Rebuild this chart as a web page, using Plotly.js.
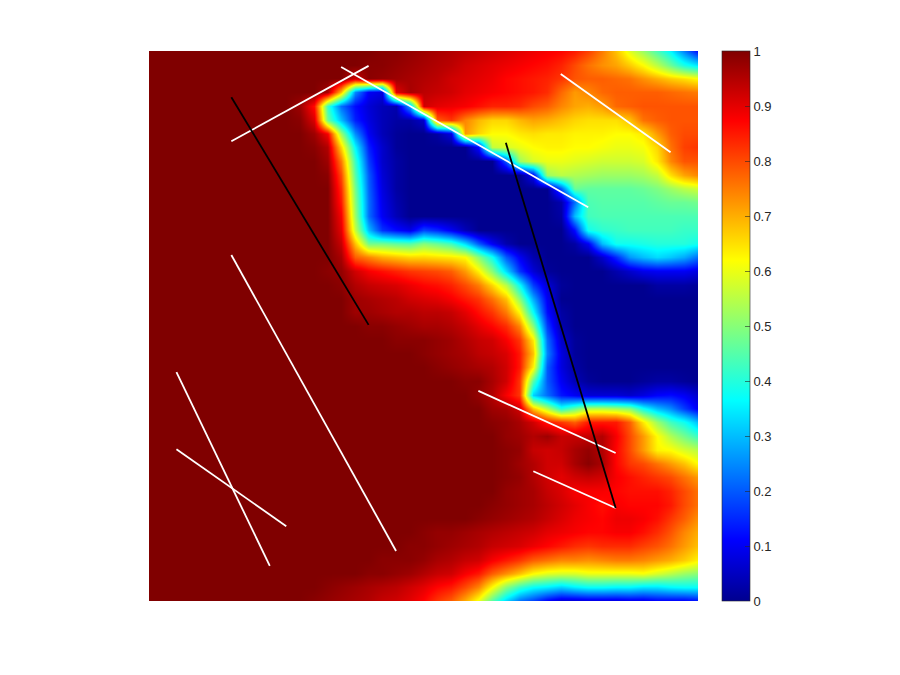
<!DOCTYPE html>
<html>
<head>
<meta charset="utf-8">
<script src="https://cdn.plot.ly/plotly-3.0.1.min.js"></script>
<style>html,body{margin:0;padding:0;background:#fff}</style>
</head>
<body>
<div id="plot" style="width:900px;height:675px"></div>
<script>
// field values, in percent, top row first
var fieldRows = [
[100,100,100,100,100,100,100,100,100,100,100,100,100,100,100,100,100,99,99,98,97,96,95,94,93,92,91,90,89,88,87,85,81,75,68,59,52,44,36,24,12],
[100,100,100,100,100,100,100,100,100,100,100,100,100,100,100,100,99,99,98,97,96,95,94,92,91,90,89,88,87,86,84,80,76,73,71,67,62,55,47,39,34],
[100,100,100,100,100,100,100,100,100,100,100,100,100,100,100,92,99,98,97,96,95,94,92,91,90,89,87,86,85,84,82,79,78,78,77,76,73,70,67,65,62],
[100,100,100,100,100,100,100,100,100,100,100,100,100,96,68,25,10,8,90,96,94,93,92,90,89,88,87,86,85,83,77,72,74,77,78,78,78,78,77,76,75],
[100,100,100,100,100,100,100,100,100,100,100,97,86,42,22,12,7,4,3,28,92,90,89,88,86,84,84,83,80,78,74,71,70,72,77,78,79,79,79,79,79],
[100,100,100,100,100,100,100,100,100,100,100,99,91,47,30,14,8,4,2,2,6,78,82,74,69,66,66,69,71,70,68,66,65,65,65,68,76,78,79,79,79],
[100,100,100,100,100,100,100,100,100,100,100,100,97,88,52,25,10,4,1,0,0,2,8,72,66,62,62,64,65,64,64,63,63,63,62,62,64,72,78,80,80],
[100,100,100,100,100,100,100,100,100,100,100,100,99,95,66,36,14,6,1,0,0,0,0,0,12,56,58,60,62,63,63,62,62,61,60,60,61,66,76,81,82],
[100,100,100,100,100,100,100,100,100,100,100,100,100,97,75,42,17,6,2,0,0,0,0,0,0,0,20,52,58,60,60,59,58,57,57,57,58,64,74,79,79],
[100,100,100,100,100,100,100,100,100,100,100,100,100,99,80,45,20,7,2,0,0,0,0,0,0,0,0,0,10,52,55,54,53,52,52,52,53,56,65,71,74],
[100,100,100,100,100,100,100,100,100,100,100,100,100,100,83,48,21,8,2,0,0,0,0,0,0,0,0,0,0,0,20,47,46,46,46,46,47,49,52,55,57],
[100,100,100,100,100,100,100,100,100,100,100,100,100,100,85,50,22,9,3,0,0,0,0,0,0,0,0,0,0,0,3,22,44,45,45,45,45,46,47,47,48],
[100,100,100,100,100,100,100,100,100,100,100,100,100,100,88,52,22,10,4,0,0,0,0,0,0,0,0,0,0,0,2,30,43,44,44,44,44,44,44,44,44],
[100,100,100,100,100,100,100,100,100,100,100,100,100,100,90,56,30,16,12,9,18,15,10,4,0,0,0,0,0,0,0,12,38,41,42,43,43,43,43,42,42],
[100,100,100,100,100,100,100,100,100,100,100,100,100,100,93,68,48,48,46,45,50,47,43,33,20,10,3,0,0,0,0,2,10,30,38,38,39,40,40,40,38],
[100,100,100,100,100,100,100,100,100,100,100,100,100,100,96,78,74,70,68,66,66,65,64,62,50,38,20,10,3,0,0,0,0,6,15,26,30,33,31,28,22],
[100,100,100,100,100,100,100,100,100,100,100,100,100,99,98,92,88,86,84,82,81,80,78,72,63,50,33,16,7,1,0,0,0,0,3,6,9,10,10,10,8],
[100,100,100,100,100,100,100,100,100,100,100,100,100,100,99,95,93,92,91,89,87,86,84,80,75,66,55,37,17,7,1,0,0,0,0,0,0,2,2,2,1],
[100,100,100,100,100,100,100,100,100,100,100,100,100,100,100,97,96,95,94,92,91,90,88,85,82,76,68,50,28,10,0,0,0,0,0,0,0,0,0,0,0],
[100,100,100,100,100,100,100,100,100,100,100,100,100,100,100,97,97,96,95,95,94,94,93,90,86,82,75,62,37,12,2,0,0,0,0,0,0,0,0,0,0],
[100,100,100,100,100,100,100,100,100,100,100,100,100,100,100,100,99,99,98,97,96,96,95,93,90,87,83,74,50,17,3,0,0,0,0,0,0,0,0,0,0],
[100,100,100,100,100,100,100,100,100,100,100,100,100,100,100,100,100,100,99,99,99,98,97,95,93,92,88,82,64,22,6,1,0,0,0,0,0,0,0,0,0],
[100,100,100,100,100,100,100,100,100,100,100,100,100,100,100,100,100,100,100,100,99,98,97,96,94,93,91,85,68,24,8,1,0,0,0,0,0,0,0,0,0],
[100,100,100,100,100,100,100,100,100,100,100,100,100,100,100,100,100,100,100,100,100,99,98,97,96,95,92,85,63,20,8,2,0,0,0,0,0,0,0,0,0],
[100,100,100,100,100,100,100,100,100,100,100,100,100,100,100,100,100,100,100,100,100,100,100,99,99,96,92,82,45,20,10,4,1,0,0,0,1,2,2,1,0],
[100,100,100,100,100,100,100,100,100,100,100,100,100,100,100,100,100,100,100,100,100,100,100,100,98,95,88,82,32,22,13,10,7,7,7,6,8,11,12,10,6],
[100,100,100,100,100,100,100,100,100,100,100,100,100,100,100,100,100,100,100,100,100,100,100,100,100,97,96,92,68,55,40,47,55,55,53,50,38,30,25,17,10],
[100,100,100,100,100,100,100,100,100,100,100,100,100,100,100,100,100,100,100,100,100,100,100,100,100,99,98,96,92,85,82,78,85,85,85,78,64,52,43,38,30],
[100,100,100,100,100,100,100,100,100,100,100,100,100,100,100,100,100,100,100,100,100,100,100,100,100,100,98,97,95,97,93,93,93,95,88,80,72,62,54,48,42],
[100,100,100,100,100,100,100,100,100,100,100,100,100,100,100,100,100,100,100,100,100,100,100,100,100,100,99,98,93,92,93,96,98,95,87,80,72,63,62,58,55],
[100,100,100,100,100,100,100,100,100,100,100,100,100,100,100,100,100,100,100,100,100,100,100,100,100,100,99,97,95,92,92,96,99,96,87,82,80,76,72,68,62],
[100,100,100,100,100,100,100,100,100,100,100,100,100,100,100,100,100,100,100,100,100,100,100,100,100,100,99,98,95,92,90,92,93,92,88,86,84,82,80,76,72],
[100,100,100,100,100,100,100,100,100,100,100,100,100,100,100,100,100,100,100,100,100,100,100,100,100,100,98,97,96,93,91,88,88,88,87,86,86,86,84,80,76],
[100,100,100,100,100,100,100,100,100,100,100,100,100,100,100,100,100,100,100,100,100,100,100,100,100,99,98,97,96,94,92,90,88,86,88,87,87,87,85,80,76],
[100,100,100,100,100,100,100,100,100,100,100,100,100,100,100,100,100,100,100,100,100,100,100,100,99,98,97,96,95,93,91,89,88,87,89,89,88,86,82,78,73],
[100,100,100,100,100,100,100,100,100,100,100,100,100,100,100,100,100,100,100,100,99,98,98,97,96,95,94,93,92,90,89,88,87,87,88,88,86,83,79,74,70],
[100,100,100,100,100,100,100,100,100,100,100,100,100,100,100,100,100,100,100,99,99,98,97,96,95,93,92,91,89,87,85,83,82,83,83,83,81,79,76,72,68],
[100,100,100,100,100,100,100,100,100,100,100,100,100,100,100,100,100,99,99,99,98,96,95,93,92,88,85,82,78,76,74,74,73,74,75,75,74,72,70,67,63],
[100,100,100,100,100,100,100,100,100,100,100,100,100,100,100,100,99,99,98,97,95,93,92,88,85,78,73,68,62,59,58,58,60,60,60,60,61,58,55,52,50],
[100,100,100,100,100,100,100,100,100,100,100,100,100,99,98,97,96,95,94,92,90,87,85,80,74,62,50,42,37,35,32,35,37,37,36,36,34,34,36,37,37],
[100,100,100,100,100,100,100,100,100,100,100,100,99,98,97,96,95,93,92,90,87,82,78,70,60,45,32,22,17,10,6,6,7,7,7,8,8,10,10,10,12]
];

// segments, x and y as fractions of the square (y measured from the top)
var whiteX = [[0.15,0.4],[0.35,0.8],[0.75,0.95],[0.15,0.45],[0.05,0.22],[0.05,0.25],[0.6,0.85],[0.7,0.85]];
var whiteY = [[0.164,0.027],[0.029,0.284],[0.042,0.184],[0.371,0.909],[0.584,0.936],[0.724,0.864],[0.618,0.731],[0.764,0.831]];
var blackX = [[0.15,0.4],[0.65,0.85]];
var blackY = [[0.084,0.498],[0.167,0.831]];

var tickVals = [0,0.1,0.2,0.3,0.4,0.5,0.6,0.7,0.8,0.9,1];

var jet = [
  [0,'rgb(0,0,143)'],
  [0.111,'rgb(0,0,255)'],
  [0.365,'rgb(0,255,255)'],
  [0.619,'rgb(255,255,0)'],
  [0.873,'rgb(255,0,0)'],
  [1,'rgb(128,0,0)']
];

var traces = [{
  type: 'heatmap',
  z: fieldRows.map(function(r){ return r.map(function(v){ return v / 100; }); }),
  x0: 0, dx: 0.025,
  y0: 0, dy: 0.025,
  zmin: 0, zmax: 1,
  zsmooth: 'best',
  colorscale: jet,
  hoverinfo: 'skip',
  colorbar: {
    x: 1.0437, xanchor: 'left',
    y: 0.5, yanchor: 'middle',
    len: 1, lenmode: 'fraction',
    thickness: 28, thicknessmode: 'pixels',
    xpad: 0, ypad: 0,
    outlinecolor: '#262626', outlinewidth: 0.6,
    ticks: 'inside', ticklen: 5, tickcolor: '#262626', tickwidth: 0.6,
    tickmode: 'array', tickvals: tickVals,
    ticktext: tickVals.map(String),
    tickfont: {family: 'Liberation Sans', size: 13, color: '#262626'}
  }
}];

function addSegments(xs, ys, color) {
  for (var i = 0; i < xs.length; i++) {
    traces.push({
      type: 'scatter', mode: 'lines',
      x: xs[i], y: ys[i],
      line: {color: color, width: 1.8},
      showlegend: false, hoverinfo: 'skip'
    });
  }
}
addSegments(whiteX, whiteY, '#ffffff');
addSegments(blackX, blackY, '#000000');

var layout = {
  width: 900, height: 675,
  margin: {l: 149, r: 202, t: 51, b: 74, pad: 0},
  paper_bgcolor: '#ffffff',
  plot_bgcolor: '#ffffff',
  showlegend: false,
  xaxis: {range: [0, 1], visible: false, fixedrange: true},
  yaxis: {range: [1, 0], visible: false, fixedrange: true}
};

Plotly.newPlot('plot', traces, layout, {displayModeBar: false, staticPlot: true});
</script>
</body>
</html>
